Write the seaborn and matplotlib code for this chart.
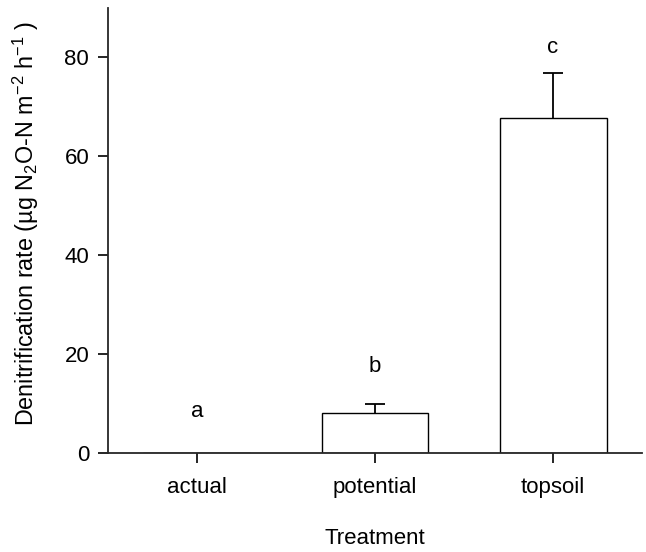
import pandas as pd
import seaborn as sns
import matplotlib.pyplot as plt

treatments = ["actual", "potential", "topsoil"]
rates = [0.0, 8.2, 67.8]
errors = [0.0, 1.8, 9.0]
letters = ["a", "b", "c"]
letter_y = [8.5, 17.5, 82.0]

df = pd.DataFrame({"treatment": treatments, "rate": rates, "err": errors})

sns.set_style("ticks")
plt.rcParams['font.family'] = ['Liberation Sans', 'DejaVu Sans']
plt.rcParams['mathtext.fontset'] = 'custom'
plt.rcParams['mathtext.rm'] = 'Liberation Sans'
plt.rcParams['mathtext.it'] = 'Liberation Sans:italic'
plt.rcParams['text.color'] = 'black'
plt.rcParams['axes.labelcolor'] = 'black'

fig = plt.figure(figsize=(6.46, 5.52), dpi=100)
ax = fig.add_axes([0.167, 0.179, 0.827, 0.807])

sns.barplot(data=df, x="treatment", y="rate", color="white", saturation=1,
            edgecolor="black", linewidth=1.0, width=0.6, errorbar=None, ax=ax)

# one-sided error bars (upward only)
has_err = df[df["err"] > 0]
_, caps, _ = ax.errorbar([treatments.index(t) for t in has_err["treatment"]],
                         has_err["rate"],
                         yerr=[[0] * len(has_err), has_err["err"]], fmt="none",
                         ecolor="black", elinewidth=1.3, capsize=7.5, capthick=1.3)
caps[0].set_visible(False)  # hide the lower cap sitting on the bar top

for i, (lab, y) in enumerate(zip(letters, letter_y)):
    ax.text(i, y, lab, ha="center", va="center", fontsize=16)

ax.set_xlim(-0.5, 2.5)
ax.set_ylim(0, 90)
ax.set_yticks([0, 20, 40, 60, 80])
sns.despine(ax=ax)
for s in ["left", "bottom"]:
    ax.spines[s].set_linewidth(1.3)
ax.tick_params(axis="both", direction="out", length=7.5, width=1.2,
               labelsize=16, colors="black")
ax.tick_params(axis="y", pad=6)
ax.tick_params(axis="x", pad=10)

ax.set_xlabel("Treatment", fontsize=16, labelpad=21)
ax.set_ylabel("Denitrification rate (µg N$_2$O-N m$^{-2}$ h$^{-1}$ )",
              fontsize=16.8)
ax.yaxis.set_label_coords(-0.125, 0.515)

fig.savefig("out.png", dpi=100)
plt.close()
